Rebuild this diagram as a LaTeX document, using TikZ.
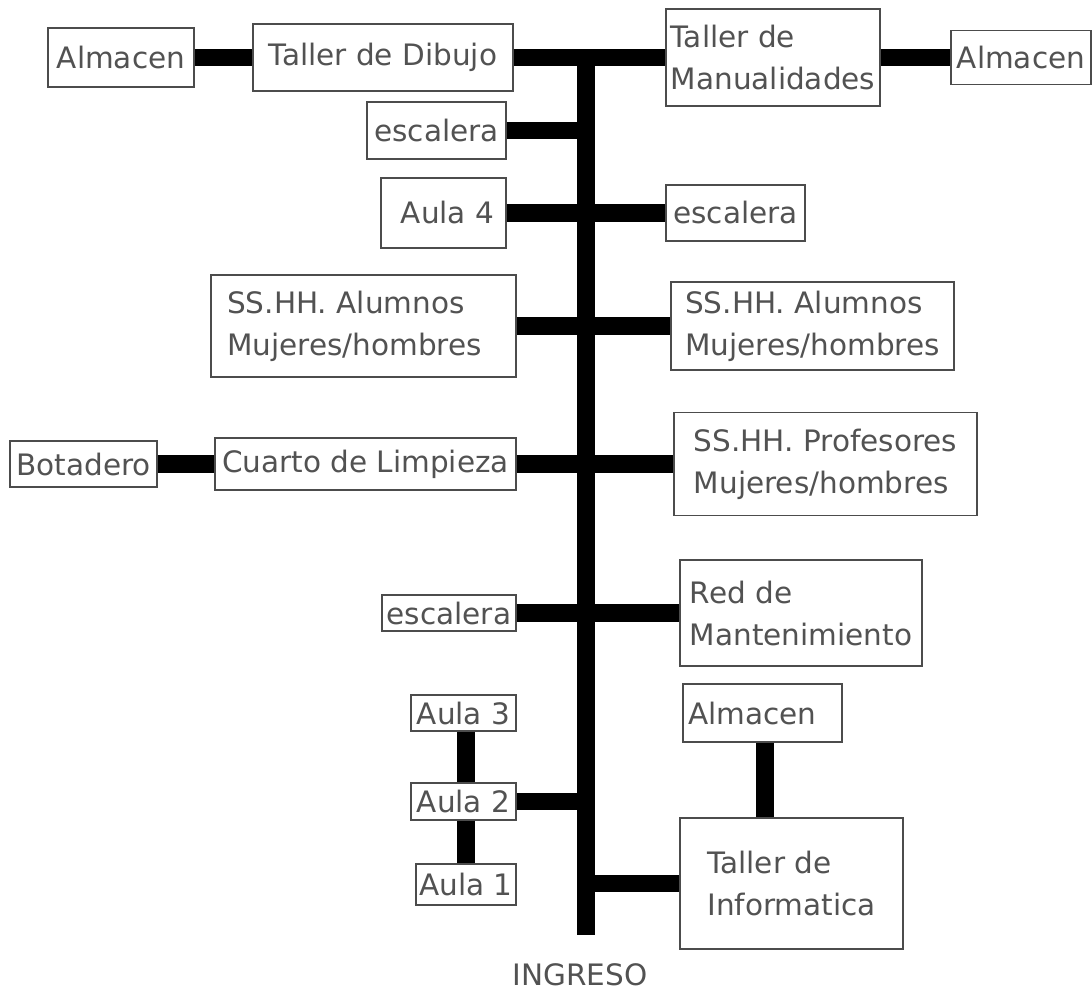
\documentclass[tikz,border=0pt]{standalone}
\usepackage{fontspec}
\setmainfont{DejaVu Sans}
\begin{document}
\begin{tikzpicture}[x=1pt,y=-1pt,
  box/.style={draw=black!70, line width=1.3pt, fill=white, inner sep=0pt,
    text=black!68, font=\fontsize{29.5}{42}\selectfont, align=center},
  conn/.style={line width=17.5pt, black, line cap=butt},
  label/.style={inner sep=0pt, text=black!68, font=\fontsize{29.5}{42}\selectfont}]
\useasboundingbox (0,0) rectangle (1092,995);
% spine coordinates
\coordinate (top) at (586,57.5);
\coordinate (bot) at (586,935);
% nodes
\node[box, minimum width=146pt, minimum height=59pt] (almTL) at (121,57.5) {Almacen};
\node[box, minimum width=260pt, minimum height=67pt] (dibujo) at (383,57.5) {Taller de Dibujo};
\node[box, minimum width=214pt, minimum height=97pt, align=left] (manual) at (773,57.5) {Taller de\\Manualidades};
\node[box, minimum width=140pt, minimum height=54pt] (almTR) at (1021,57.5) {Almacen};
\node[box, minimum width=139pt, minimum height=57pt] (esc1) at (436.5,130.5) {escalera};
\node[box, minimum width=125pt, minimum height=70pt] (aula4) at (443.5,213) {\hspace*{8pt}Aula 4};
\node[box, minimum width=139pt, minimum height=56pt] (esc2) at (735.5,213) {escalera};
\node[box, minimum width=305pt, minimum height=102pt, align=left] (ssL) at (363.5,326) {SS.HH. Alumnos\\Mujeres/hombres\hspace*{18pt}};
\node[box, minimum width=283pt, minimum height=88pt, align=left] (ssR) at (812.5,326) {SS.HH. Alumnos\\Mujeres/hombres};
\node[box, minimum width=147pt, minimum height=46pt] (botadero) at (83.5,464) {Botadero};
\node[box, minimum width=301pt, minimum height=52pt] (cuarto) at (365.5,464) {Cuarto de Limpieza};
\node[box, minimum width=303pt, minimum height=103pt, align=left] (prof) at (825.5,464) {SS.HH. Profesores\\Mujeres/hombres};
\node[box, minimum width=134pt, minimum height=36pt] (esc3) at (449,613) {escalera};
\node[box, minimum width=242pt, minimum height=106pt, align=left] (red) at (801,613) {Red de\\Mantenimiento};
\node[box, minimum width=105pt, minimum height=36pt] (aula3) at (463.5,713) {Aula 3};
\node[box, minimum width=105pt, minimum height=37pt] (aula2) at (463.5,801.5) {Aula 2};
\node[box, minimum width=100pt, minimum height=41pt] (aula1) at (466,884.5) {Aula 1};
\node[box, minimum width=159pt, minimum height=58pt] (almB) at (762.5,713) {\hspace*{-20pt}Almacen};
\node[box, minimum width=223pt, minimum height=131pt, align=left] (info) at (791.5,883.5) {Taller de\\Informatica};
\node[label] (ingreso) at (580,975) {INGRESO};
% connectors
\draw[conn] (top) -- (bot);
\draw[conn] (almTL.east) -- (dibujo.west);
\draw[conn] (dibujo.east) -- (manual.west);
\draw[conn] (manual.east) -- (almTR.west);
\draw[conn] (esc1.east) -- (esc1.east -| top);
\draw[conn] (aula4.east) -- (esc2.west);
\draw[conn] (ssL.east) -- (ssR.west);
\draw[conn] (botadero.east) -- (cuarto.west);
\draw[conn] (cuarto.east) -- (prof.west);
\draw[conn] (esc3.east) -- (red.west);
\draw[conn] (aula2.east) -- (aula2.east -| top);
\draw[conn] (aula3.south -| aula1) -- (aula2.north -| aula1);
\draw[conn] (aula2.south -| aula1) -- (aula1.north);
\draw[conn] (info.west) -- (info.west -| top);
\draw[conn] (almB.south -| 765,0) -- (info.north -| 765,0);
\end{tikzpicture}
\end{document}
